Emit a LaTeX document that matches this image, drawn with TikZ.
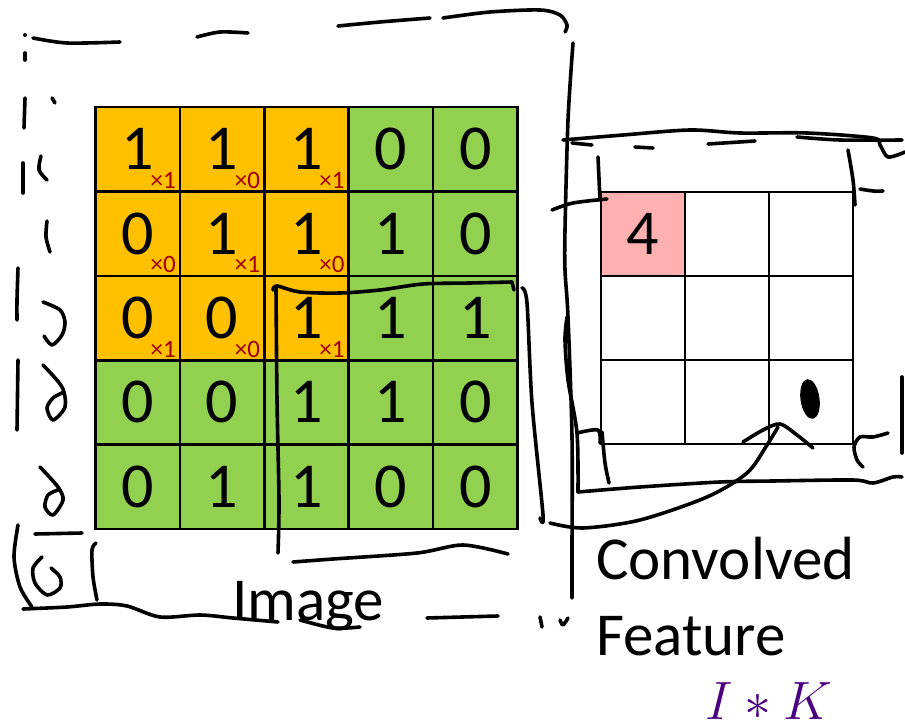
\RequirePackage{fix-cm}
\documentclass[tikz,border=0pt]{standalone}
\usepackage[no-math]{fontspec}
\setmainfont{Carlito}
\usetikzlibrary{calc}
\definecolor{cellorange}{HTML}{FFC000}
\definecolor{cellgreen}{HTML}{92D050}
\definecolor{cellpink}{HTML}{FFB0B0}
\definecolor{kred}{HTML}{A00000}
\definecolor{mathpurple}{HTML}{4B0082}
\begin{document}
\begin{tikzpicture}[x=1pt,y=-1pt,
  cellbox/.style={draw=black, line width=2.6pt, minimum width=84.4pt, minimum height=84.4pt,
    inner sep=0pt, outer sep=0pt, anchor=north west, font=\fontsize{64}{64}\selectfont},
  rcell/.style={cellbox, fill=white, minimum width=84pt, minimum height=84pt},
  subk/.style={text=kred, inner sep=0pt, anchor=base east, font=\fontsize{25}{25}\selectfont},
  lbl/.style={inner sep=0pt, anchor=base west, font=\fontsize{61}{61}\selectfont},
  hand/.style={line width=3.6pt, line cap=round, line join=round},
]
\useasboundingbox (0,0) rectangle (905,722);
\fill[white] (0,0) rectangle (905,722);

% ---- 5x5 image grid ----
\foreach \r/\vals in {1/{1,1,1,0,0},2/{0,1,1,1,0},3/{0,0,1,1,1},4/{0,0,1,1,0},5/{0,1,1,0,0}}{
  \foreach \v [count=\c] in \vals {
    \pgfmathsetmacro{\isor}{(\r<4 && \c<4) ? 1 : 0}
    \ifdim\isor pt>0.5pt
      \node[cellbox, fill=cellorange] (g-\r-\c) at ({95.5+(\c-1)*84.4},{107+(\r-1)*84.4}) {\v};
    \else
      \node[cellbox, fill=cellgreen] (g-\r-\c) at ({95.5+(\c-1)*84.4},{107+(\r-1)*84.4}) {\v};
    \fi
  }
}
% kernel weights
\foreach \r/\c/\k in {1/1/1,1/2/0,1/3/1,2/1/0,2/2/1,2/3/0,3/1/1,3/2/0,3/3/1}{
  \node[subk] (k-\r-\c) at ($(g-\r-\c.south east)+(-4,-3)$) {×\k};
}

% ---- 3x3 convolved feature grid ----
\foreach \r in {1,2,3}{
  \foreach \c in {1,2,3}{
    \node[rcell] (r-\r-\c) at ({601+(\c-1)*84},{192+(\r-1)*84}) {};
  }
}
\node[rcell, fill=cellpink] (r-1-1) at (601,192) {4};

% ---- labels ----
\node[lbl] (image) at (232,620) {Image};
\node[lbl] (conv) at (596,579) {Convolved};
\node[lbl] (feat) at (596,655) {Feature};
\node[text=mathpurple, inner sep=0pt, anchor=base, font=\fontsize{54}{54}\selectfont] (ik) at (769,719) {$I*K$};

% ---- hand-drawn strokes ----
\fill (25,35) circle (2pt);
\draw[hand] plot[smooth] coordinates {(33,38) (67,43) (120,42)};
\draw[hand] plot[smooth] coordinates {(25,53) (25,60)};
\draw[hand] plot[smooth] coordinates {(25,98) (24,128)};
\draw[hand] plot[smooth] coordinates {(52,98) (55,103)};
\draw[hand] plot[smooth] coordinates {(23,163) (23,193)};
\draw[hand] plot[smooth] coordinates {(41,156) (39,170) (47,180)};
\draw[hand] plot[smooth] coordinates {(47,221) (46,237) (50,252)};
\draw[hand] plot[smooth] coordinates {(18,268) (17,300) (17,320)};
\draw[hand] plot[smooth] coordinates {(43,302) (60,310) (65,322) (62,335) (52,345) (44,336)};
\draw[hand] plot[smooth] coordinates {(18,360) (17,430)};
\draw[hand] plot[smooth] coordinates {(43,365) (62,387) (65,407) (53,420) (47,408) (53,398) (62,393)};
\draw[hand] plot[smooth] coordinates {(40,467) (58,487) (63,500) (53,515) (45,507) (48,495) (58,490)};
\draw[hand] plot[smooth] coordinates {(18,525) (14,557) (20,587) (32,607)};
\draw[hand] plot[smooth] coordinates {(35,534) (82,533)};
\draw[hand] plot[smooth] coordinates {(42,557) (33,568) (35,583) (47,595) (60,588) (60,577) (51,568)};
\draw[hand] plot[smooth] coordinates {(96,543) (92,550) (93,577) (97,600)};
\draw[hand] plot[smooth] coordinates {(23,609) (67,607) (100,604) (127,606) (160,617) (200,615) (233,618) (278,622)};
\draw[hand] plot[smooth] coordinates {(300,620) (333,628) (360,627)};
\draw[hand] plot[smooth] coordinates {(427,618) (498,616)};
\draw[hand] plot[smooth] coordinates {(540,617) (542,627)};
\draw[hand] plot[smooth] coordinates {(560,620) (563,625) (568,618)};
% top
\draw[hand] plot[smooth] coordinates {(197,37) (220,32) (248,33)};
\draw[hand] plot[smooth] coordinates {(338,26) (380,22) (430,18)};
\draw[hand] plot[smooth] coordinates {(443,18) (490,12) (540,10) (560,15) (567,25) (565,32)};
\draw[hand] plot[smooth] coordinates {(573,43) (568,120) (565,230) (565,270) (568,317) (572,437) (572,550) (572,598)};
% inner box on the image grid
\draw[hand] plot[smooth] coordinates {(273,290) (277,286) (300,292) (340,293) (380,290) (423,284) (470,283) (512,282)};
\draw[hand] plot[smooth] coordinates {(512,282) (514,290)};
\draw[hand] plot[smooth] coordinates {(276,288) (277,400) (279,500) (278,553)};
\draw[hand] plot[smooth] coordinates {(293,562) (333,559) (417,553) (463,545) (508,554)};
\draw[hand] plot[smooth] coordinates {(522,288) (527,303) (532,403) (543,515) (540,518)};
% around the feature grid
\draw[hand] plot[smooth] coordinates {(567,317) (565,340) (568,380) (577,433) (578,492)};
\draw[hand] plot[smooth] coordinates {(578,492) (640,487) (720,482) (773,481) (853,480) (873,483) (893,477) (902,477)};
\draw[hand] plot[smooth] coordinates {(563,140) (623,135) (690,130) (740,133) (807,133) (873,138) (880,145) (888,157) (905,152)};
\draw[hand] plot[smooth] coordinates {(797,137) (840,140) (902,140)};
\draw[hand] plot[smooth] coordinates {(572,143) (592,145)};
\draw[hand] plot[smooth] coordinates {(635,147) (653,148)};
\draw[hand] plot[smooth] coordinates {(708,144) (755,141)};
\draw[hand] plot[smooth] coordinates {(552,210) (573,203) (607,199)};
\draw[hand] plot[smooth] coordinates {(598,157) (600,200)};
\draw[hand] plot[smooth] coordinates {(848,150) (853,180) (855,205)};
\draw[hand] plot[smooth] coordinates {(860,189) (873,191) (883,191)};
\draw[hand] plot[smooth] coordinates {(577,433) (598,430) (600,443)};
\draw[hand] plot[smooth] coordinates {(602,432) (605,463) (609,483)};
\draw[hand] plot[smooth] coordinates {(888,433) (873,437) (860,437) (854,447) (857,460) (863,467)};
\draw[hand] plot[smooth] coordinates {(902,377) (902,453)};
\fill[rotate around={8:(810,399)}] (810,399) ellipse [x radius=9.5, y radius=20];
\draw[hand] plot[smooth] coordinates {(550,523) (583,528) (640,520) (707,497) (747,473) (767,445) (778,427)};
\draw[hand] plot[smooth] coordinates {(743,442) (763,430) (780,424) (797,435) (813,448)};
\end{tikzpicture}
\end{document}
